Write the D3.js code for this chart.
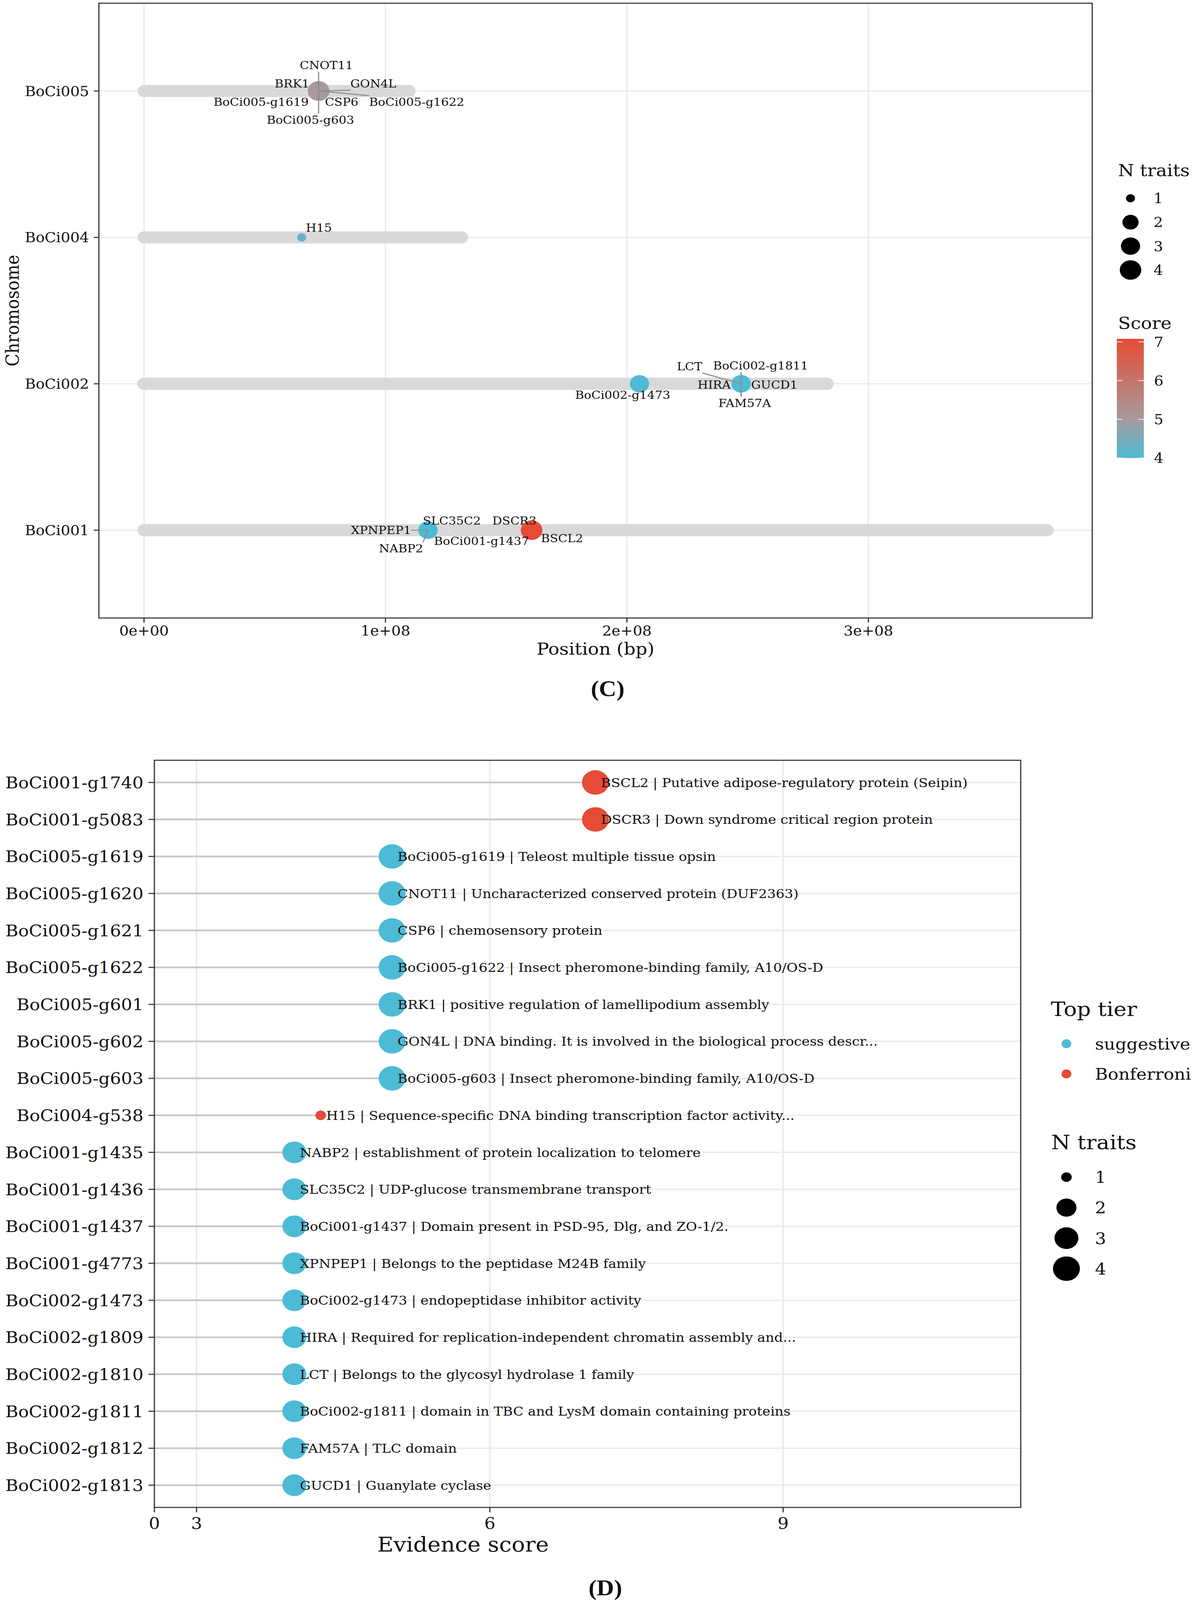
<!DOCTYPE html>
<html>
<head>
<meta charset="utf-8">
<script src="https://cdn.jsdelivr.net/npm/d3@7"></script>
<style>
  html, body { margin: 0; padding: 0; background: #fff; overflow: hidden; }
  text { font-family: "DejaVu Serif", serif; fill: #111; }
</style>
</head>
<body>
<div id="chart"></div>
<script>
// ---- data ----
const chromosomes = ["BoCi001", "BoCi002", "BoCi004", "BoCi005"];
const chromLengths = [3.740e8, 2.829e8, 1.315e8, 1.097e8];
const positionTicks = [0, 1e8, 2e8, 3e8];

const geneIds = [
  "BoCi001-g1740", "BoCi001-g5083", "BoCi005-g1619", "BoCi005-g1620", "BoCi005-g1621",
  "BoCi005-g1622", "BoCi005-g601", "BoCi005-g602", "BoCi005-g603", "BoCi004-g538",
  "BoCi001-g1435", "BoCi001-g1436", "BoCi001-g1437", "BoCi001-g4773", "BoCi002-g1473",
  "BoCi002-g1809", "BoCi002-g1810", "BoCi002-g1811", "BoCi002-g1812", "BoCi002-g1813"
];
const geneSymbols = [
  "BSCL2", "DSCR3", "BoCi005-g1619", "CNOT11", "CSP6",
  "BoCi005-g1622", "BRK1", "GON4L", "BoCi005-g603", "H15",
  "NABP2", "SLC35C2", "BoCi001-g1437", "XPNPEP1", "BoCi002-g1473",
  "HIRA", "LCT", "BoCi002-g1811", "FAM57A", "GUCD1"
];
const geneDescriptions = [
  "Putative adipose-regulatory protein (Seipin)",
  "Down syndrome critical region protein",
  "Teleost multiple tissue opsin",
  "Uncharacterized conserved protein (DUF2363)",
  "chemosensory protein",
  "Insect pheromone-binding family, A10/OS-D",
  "positive regulation of lamellipodium assembly",
  "DNA binding. It is involved in the biological process descr...",
  "Insect pheromone-binding family, A10/OS-D",
  "Sequence-specific DNA binding transcription factor activity...",
  "establishment of protein localization to telomere",
  "UDP-glucose transmembrane transport",
  "Domain present in PSD-95, Dlg, and ZO-1/2.",
  "Belongs to the peptidase M24B family",
  "endopeptidase inhibitor activity",
  "Required for replication-independent chromatin assembly and...",
  "Belongs to the glycosyl hydrolase 1 family",
  "domain in TBC and LysM domain containing proteins",
  "TLC domain",
  "Guanylate cyclase"
];
const geneChrom = [
  "BoCi001", "BoCi001", "BoCi005", "BoCi005", "BoCi005",
  "BoCi005", "BoCi005", "BoCi005", "BoCi005", "BoCi004",
  "BoCi001", "BoCi001", "BoCi001", "BoCi001", "BoCi002",
  "BoCi002", "BoCi002", "BoCi002", "BoCi002", "BoCi002"
];
const genePosition = [
  1.605e8, 1.605e8, 0.723e8, 0.723e8, 0.723e8,
  0.723e8, 0.723e8, 0.723e8, 0.723e8, 0.653e8,
  1.176e8, 1.176e8, 1.176e8, 1.176e8, 2.052e8,
  2.473e8, 2.473e8, 2.473e8, 2.473e8, 2.473e8
];
const evidenceScore = [
  7.08, 7.08, 5.0, 5.0, 5.0,
  5.0, 5.0, 5.0, 5.0, 4.27,
  4.0, 4.0, 4.0, 4.0, 4.0,
  4.0, 4.0, 4.0, 4.0, 4.0
];
const nTraits = [
  4, 4, 4, 4, 4,
  4, 4, 4, 4, 1,
  3, 3, 3, 3, 3,
  3, 3, 3, 3, 3
];
const topTier = [
  "Bonferroni", "Bonferroni", "suggestive", "suggestive", "suggestive",
  "suggestive", "suggestive", "suggestive", "suggestive", "Bonferroni",
  "suggestive", "suggestive", "suggestive", "suggestive", "suggestive",
  "suggestive", "suggestive", "suggestive", "suggestive", "suggestive"
];
const tierLevels = ["suggestive", "Bonferroni"];
const traitLevels = [1, 2, 3, 4];
const scoreTicks = [4, 5, 6, 7];
const evidenceTicks = [0, 3, 6, 9];

const genes = geneIds.map((id, i) => ({
  id: id,
  symbol: geneSymbols[i],
  desc: geneDescriptions[i],
  chrom: geneChrom[i],
  pos: genePosition[i],
  score: evidenceScore[i],
  n: nTraits[i],
  tier: topTier[i]
}));

// where the repel step put each label in panel C (px from its point)
const repelC = {
  "CNOT11": [20, -73], "BRK1": [-68, -21], "GON4L": [140, -21],
  "BoCi005-g1619": [-147, 30], "CSP6": [59, 30], "BoCi005-g1622": [251, 30],
  "BoCi005-g603": [-21, 81], "H15": [44, -28],
  "BoCi002-g1473": [-43, 31], "LCT": [-132, -49], "BoCi002-g1811": [50, -51],
  "HIRA": [-69, 2], "GUCD1": [85, 2], "FAM57A": [9, 54],
  "XPNPEP1": [-120, -1], "SLC35C2": [61, -27], "NABP2": [-69, 51],
  "BoCi001-g1437": [137, 30], "DSCR3": [-44, -27], "BSCL2": [78, 23]
};

const BLUE = "#4DBBD5", RED = "#E64B35";
const W = 3058, H = 4510;

// draw on a fixed 3058x4510 canvas, stretched to whatever the viewport is
const svg = d3.select("#chart")
  .append("svg")
  .attr("width", window.innerWidth || W)
  .attr("height", window.innerHeight || H)
  .attr("viewBox", `0 0 ${W} ${H}`)
  .attr("preserveAspectRatio", "none")
  .style("display", "block");

svg.append("rect").attr("width", W).attr("height", H).attr("fill", "#fff");

function sci(v) {
  // 1e+08 style labels like R prints them
  const [m, e] = v.toExponential().split("e");
  return `${m}e${e[0]}${e.slice(1).padStart(2, "0")}`;
}

// ================= panel C =================
const pc = { left: 253, top: 9, right: 2795, bottom: 1742 };
const cW = pc.right - pc.left, cH = pc.bottom - pc.top;
const gC = svg.append("g").attr("transform", `translate(${pc.left},${pc.top})`);

const maxLen = d3.max(chromLengths);
const xC = d3.scaleLinear().domain([-0.05 * maxLen, 1.05 * maxLen]).range([0, cW]);
const yC = d3.scalePoint().domain(chromosomes.slice().reverse()).range([0, cH]).padding(0.6);
const scoreColor = d3.scaleLinear()
  .domain([d3.min(evidenceScore), 5.0, d3.max(evidenceScore)])
  .range([BLUE, "#A69A9D", RED]);
const sizeC = d3.scalePow().exponent(0.5).domain([0, 3]).range([23, 55]);

// grid
gC.selectAll(".vgrid").data(positionTicks).join("line")
  .attr("x1", d => xC(d)).attr("x2", d => xC(d))
  .attr("y1", 0).attr("y2", cH)
  .attr("stroke", "#EBEBEB").attr("stroke-width", 3.5);
gC.selectAll(".hgrid").data(chromosomes).join("line")
  .attr("x1", 0).attr("x2", cW)
  .attr("y1", d => yC(d)).attr("y2", d => yC(d))
  .attr("stroke", "#EBEBEB").attr("stroke-width", 3.5);

// chromosome bars
gC.selectAll(".chr").data(chromosomes).join("line")
  .attr("x1", xC(0))
  .attr("x2", (d, i) => xC(chromLengths[i]))
  .attr("y1", d => yC(d)).attr("y2", d => yC(d))
  .attr("stroke", "#D9D9D9").attr("stroke-width", 34)
  .attr("stroke-linecap", "round");

// points
gC.selectAll(".pt").data(genes).join("circle")
  .attr("cx", d => xC(d.pos))
  .attr("cy", d => yC(d.chrom))
  .attr("r", d => sizeC(d.n - 1) / 2)
  .attr("fill", d => scoreColor(d.score));

// labels + segments
const segLayer = gC.append("g");
const labC = gC.selectAll(".lab").data(genes).join("text")
  .attr("x", d => xC(d.pos) + repelC[d.symbol][0])
  .attr("y", d => yC(d.chrom) + repelC[d.symbol][1])
  .attr("dy", "0.364em")
  .attr("text-anchor", "middle")
  .style("font-size", "31px")
  .text(d => d.symbol);

labC.each(function(d) {
  const b = this.getBBox();
  const px = xC(d.pos), py = yC(d.chrom);
  const qx = Math.max(b.x, Math.min(px, b.x + b.width));
  const qy = Math.max(b.y, Math.min(py, b.y + b.height));
  if (Math.hypot(qx - px, qy - py) > 30) {
    segLayer.append("line")
      .attr("x1", px).attr("y1", py).attr("x2", qx).attr("y2", qy)
      .attr("stroke", "#8C8C8C").attr("stroke-width", 3);
  }
});

// border
gC.append("rect").attr("width", cW).attr("height", cH)
  .attr("fill", "none").attr("stroke", "#333").attr("stroke-width", 3);

// axes
const axC = gC.append("g");
axC.selectAll(".xt").data(positionTicks).join("line")
  .attr("x1", d => xC(d)).attr("x2", d => xC(d))
  .attr("y1", cH).attr("y2", cH + 13)
  .attr("stroke", "#333").attr("stroke-width", 3);
axC.selectAll(".xl").data(positionTicks).join("text")
  .attr("x", d => xC(d)).attr("y", cH + 36).attr("dy", "0.364em")
  .attr("text-anchor", "middle").style("font-size", "38px")
  .text(sci);
axC.selectAll(".yt").data(chromosomes).join("line")
  .attr("x1", -13).attr("x2", 0)
  .attr("y1", d => yC(d)).attr("y2", d => yC(d))
  .attr("stroke", "#333").attr("stroke-width", 3);
axC.selectAll(".yl").data(chromosomes).join("text")
  .attr("x", -25).attr("y", d => yC(d)).attr("dy", "0.364em")
  .attr("text-anchor", "end").style("font-size", "38px")
  .text(d => d);

svg.append("text")
  .attr("x", pc.left + cW / 2).attr("y", 1845)
  .attr("text-anchor", "middle").style("font-size", "47px")
  .text("Position (bp)");
svg.append("text")
  .attr("transform", `translate(48,${pc.top + cH / 2}) rotate(-90)`)
  .attr("text-anchor", "middle").style("font-size", "47px")
  .text("Chromosome");
svg.append("text")
  .attr("x", 1555).attr("y", 1962)
  .attr("text-anchor", "middle")
  .style("font-family", "'Liberation Serif', serif")
  .style("font-weight", "bold").style("font-size", "62px")
  .text("(C)");

// legend C: N traits
const lgC = svg.append("g");
lgC.append("text").attr("x", 2861).attr("y", 497).style("font-size", "47px").text("N traits");
const keyYC = d3.scalePoint().domain(traitLevels).range([559, 761]);
lgC.selectAll(".k").data(traitLevels).join("circle")
  .attr("cx", 2893).attr("cy", d => keyYC(d))
  .attr("r", d => sizeC(d - 1) / 2).attr("fill", "#000");
lgC.selectAll(".kl").data(traitLevels).join("text")
  .attr("x", 2952).attr("y", d => keyYC(d)).attr("dy", "0.364em")
  .style("font-size", "38px").text(d => d);

// legend C: Score colourbar
lgC.append("text").attr("x", 2861).attr("y", 927).style("font-size", "47px").text("Score");
const barY = d3.scaleLinear().domain(d3.extent(evidenceScore)).range([1291, 955]);
const grad = svg.append("defs").append("linearGradient")
  .attr("id", "scoreGrad").attr("x1", 0).attr("y1", 1).attr("x2", 0).attr("y2", 0);
const gStops = d3.range(0, 1.0001, 0.05);
grad.selectAll("stop").data(gStops).join("stop")
  .attr("offset", d => d)
  .attr("stop-color", d => scoreColor(barY.domain()[0] + d * (barY.domain()[1] - barY.domain()[0])));
lgC.append("rect")
  .attr("x", 2858).attr("y", barY.range()[1])
  .attr("width", 69).attr("height", barY.range()[0] - barY.range()[1])
  .attr("fill", "url(#scoreGrad)");
scoreTicks.forEach(v => {
  [[2858, 2872], [2913, 2927]].forEach(([a, b]) => {
    lgC.append("line").attr("x1", a).attr("x2", b)
      .attr("y1", barY(v)).attr("y2", barY(v))
      .attr("stroke", "#fff").attr("stroke-width", 2);
  });
});
lgC.selectAll(".sl").data(scoreTicks).join("text")
  .attr("x", 2953).attr("y", d => barY(d)).attr("dy", "0.364em")
  .style("font-size", "38px").text(d => d);

// ================= panel D =================
const pd = { left: 395, top: 2143, right: 2612, bottom: 4249 };
const dW = pd.right - pd.left, dH = pd.bottom - pd.top;
const gD = svg.append("g").attr("transform", `translate(${pd.left},${pd.top})`);

// axis squeezes 0-3, linear from 3 on
const xD = d3.scaleLinear().domain([0, 3, 11.43]).range([0, 108, dW]);
const yD = d3.scalePoint().domain(geneIds).range([0, dH]).padding(0.6);
const tierColor = d3.scaleOrdinal().domain(tierLevels).range([BLUE, RED]);
const sizeD = d3.scalePow().exponent(0.5).domain([0, 3]).range([27, 69]);

gD.selectAll(".vgrid").data(evidenceTicks.slice(1)).join("line")
  .attr("x1", d => xD(d)).attr("x2", d => xD(d))
  .attr("y1", 0).attr("y2", dH)
  .attr("stroke", "#EBEBEB").attr("stroke-width", 4);
gD.selectAll(".hgrid").data(geneIds).join("line")
  .attr("x1", 0).attr("x2", dW)
  .attr("y1", d => yD(d)).attr("y2", d => yD(d))
  .attr("stroke", "#EBEBEB").attr("stroke-width", 4);

gD.selectAll(".seg").data(genes).join("line")
  .attr("x1", xD(0)).attr("x2", d => xD(d.score))
  .attr("y1", d => yD(d.id)).attr("y2", d => yD(d.id))
  .attr("stroke", "#C8C8C8").attr("stroke-width", 5);

gD.selectAll(".pt").data(genes).join("circle")
  .attr("cx", d => xD(d.score)).attr("cy", d => yD(d.id))
  .attr("r", d => sizeD(d.n - 1) / 2)
  .attr("fill", d => tierColor(d.tier));

gD.selectAll(".lab").data(genes).join("text")
  .attr("x", d => xD(d.score + 0.056)).attr("y", d => yD(d.id)).attr("dy", "0.364em")
  .style("font-size", "35px")
  .text(d => `${d.symbol} | ${d.desc}`);

gD.append("rect").attr("width", dW).attr("height", dH)
  .attr("fill", "none").attr("stroke", "#333").attr("stroke-width", 3);

gD.selectAll(".xt").data(evidenceTicks).join("line")
  .attr("x1", d => xD(d)).attr("x2", d => xD(d))
  .attr("y1", dH).attr("y2", dH + 14)
  .attr("stroke", "#333").attr("stroke-width", 3);
gD.selectAll(".xl").data(evidenceTicks).join("text")
  .attr("x", d => xD(d)).attr("y", dH + 44).attr("dy", "0.364em")
  .attr("text-anchor", "middle").style("font-size", "45px")
  .text(d => d);
gD.selectAll(".yt").data(geneIds).join("line")
  .attr("x1", -15).attr("x2", 0)
  .attr("y1", d => yD(d)).attr("y2", d => yD(d))
  .attr("stroke", "#333").attr("stroke-width", 3);
gD.selectAll(".yl").data(geneIds).join("text")
  .attr("x", -28).attr("y", d => yD(d)).attr("dy", "0.364em")
  .attr("text-anchor", "end").style("font-size", "45px")
  .text(d => d);

svg.append("text")
  .attr("x", 1185).attr("y", 4373)
  .attr("text-anchor", "middle").style("font-size", "57px")
  .text("Evidence score");
svg.append("text")
  .attr("x", 1549).attr("y", 4497)
  .attr("text-anchor", "middle")
  .style("font-family", "'Liberation Serif', serif")
  .style("font-weight", "bold").style("font-size", "62px")
  .text("(D)");

// legend D
const lgD = svg.append("g");
lgD.append("text").attr("x", 2689).attr("y", 2864).style("font-size", "56px").text("Top tier");
const tierY = d3.scalePoint().domain(tierLevels).range([2942, 3027]);
lgD.selectAll(".tk").data(tierLevels).join("circle")
  .attr("cx", 2729).attr("cy", d => tierY(d)).attr("r", 12.5)
  .attr("fill", d => tierColor(d));
lgD.selectAll(".tl").data(tierLevels).join("text")
  .attr("x", 2802).attr("y", d => tierY(d)).attr("dy", "0.364em")
  .style("font-size", "45px").text(d => d);

lgD.append("text").attr("x", 2690).attr("y", 3239).style("font-size", "56px").text("N traits");
const keyYD = d3.scalePoint().domain(traitLevels).range([3318, 3576]);
lgD.selectAll(".nk").data(traitLevels).join("circle")
  .attr("cx", 2729).attr("cy", d => keyYD(d))
  .attr("r", d => sizeD(d - 1) / 2).attr("fill", "#000");
lgD.selectAll(".nl").data(traitLevels).join("text")
  .attr("x", 2802).attr("y", d => keyYD(d)).attr("dy", "0.364em")
  .style("font-size", "45px").text(d => d);
</script>
</body>
</html>
